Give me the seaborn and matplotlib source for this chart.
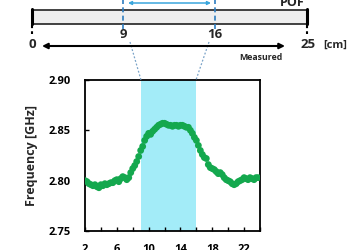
import numpy as np
import pandas as pd
import matplotlib
matplotlib.use("Agg")
import matplotlib.pyplot as plt
import seaborn as sns

# ---- data ----
position_cm = [2.0, 2.25, 2.5, 2.75, 3.0, 3.25, 3.5, 3.75, 4.0, 4.25, 4.5, 4.75,
               5.0, 5.25, 5.5, 5.75, 6.0, 6.25, 6.5, 6.75, 7.0, 7.25, 7.5, 7.75,
               8.0, 8.25, 8.5, 8.75, 9.0, 9.25, 9.5, 9.75, 10.0, 10.25, 10.5, 10.75,
               11.0, 11.25, 11.5, 11.75, 12.0, 12.25, 12.5, 12.75, 13.0, 13.25, 13.5, 13.75,
               14.0, 14.25, 14.5, 14.75, 15.0, 15.25, 15.5, 15.75, 16.0, 16.25, 16.5, 16.75,
               17.0, 17.25, 17.5, 17.75, 18.0, 18.25, 18.5, 18.75, 19.0, 19.25, 19.5, 19.75,
               20.0, 20.25, 20.5, 20.75, 21.0, 21.25, 21.5, 21.75, 22.0, 22.25, 22.5, 22.75,
               23.0, 23.25, 23.5, 23.75]
frequency_ghz = [2.800, 2.799, 2.797, 2.796, 2.795, 2.796, 2.794, 2.793, 2.796, 2.795, 2.797, 2.796,
                 2.797, 2.798, 2.798, 2.800, 2.801, 2.799, 2.802, 2.804, 2.803, 2.801, 2.803, 2.808,
                 2.812, 2.815, 2.819, 2.824, 2.830, 2.834, 2.840, 2.844, 2.847, 2.846, 2.849, 2.851,
                 2.853, 2.855, 2.856, 2.857, 2.857, 2.856, 2.855, 2.855, 2.854, 2.855, 2.855, 2.854,
                 2.855, 2.855, 2.854, 2.853, 2.853, 2.850, 2.847, 2.843, 2.840, 2.835, 2.830, 2.826,
                 2.823, 2.822, 2.816, 2.813, 2.812, 2.811, 2.809, 2.807, 2.808, 2.806, 2.803, 2.801,
                 2.800, 2.799, 2.797, 2.796, 2.797, 2.799, 2.800, 2.801, 2.803, 2.802, 2.801, 2.803,
                 2.802, 2.801, 2.803, 2.803]
highlight_range = [9, 16]
x_ticks = [2, 6, 10, 14, 18, 22]
y_ticks = [2.75, 2.80, 2.85, 2.90]
y_tick_labels = ["2.75", "2.80", "2.85", "2.90"]

df = pd.DataFrame({"pos": position_cm, "freq": frequency_ghz})

sns.set_theme(style="white")
plt.rcParams['font.family'] = ['Open Sans', 'DejaVu Sans']
plt.rcParams['font.weight'] = 'bold'

W, H = 350, 250
fig = plt.figure(figsize=(3.5, 2.5), dpi=100)

# main plot axes
ax = fig.add_axes([85 / W, 1 - 231 / H, 175 / W, 151 / H])
ax.axvspan(highlight_range[0], highlight_range[1], color="#a3ecf8", lw=0, zorder=0)
sns.scatterplot(data=df, x="pos", y="freq", ax=ax, color="#14a84e", s=24,
                edgecolor="none", zorder=3, legend=False)
ax.set_xlim(2, 24)
ax.set_ylim(2.75, 2.90)
ax.set_xticks(x_ticks)
ax.set_xticks(np.arange(2, 24.1, 2), minor=True)
ax.set_yticks(y_ticks)
ax.set_yticklabels(y_tick_labels)
ax.tick_params(axis="both", which="both", direction="in", length=3, width=1,
               colors="black", labelsize=8)
ax.tick_params(axis="x", which="both", bottom=True, pad=9)
ax.tick_params(axis="y", which="both", left=True, pad=10)
ax.set_xticklabels([str(t) for t in x_ticks], fontweight="bold")
for lbl in ax.get_yticklabels():
    lbl.set_fontweight("bold")
ax.set_xlabel("")
ax.set_ylabel("Frequency [GHz]", fontsize=9, fontweight="bold", labelpad=8)
for sp in ax.spines.values():
    sp.set_color("black")
    sp.set_linewidth(1.3)

# overlay diagram axes in pixel coords
ov = fig.add_axes([0, 0, 1, 1], zorder=5)
ov.set_xlim(0, W)
ov.set_ylim(H, 0)
ov.axis("off")
ov.patch.set_alpha(0)

# POF rod
ov.add_patch(plt.Rectangle((32, 10), 275, 14, facecolor="#efefef",
                           edgecolor="#222222", lw=1.2))
for xe in (32, 307):
    ov.plot([xe, xe], [9, 24], color="black", lw=2.2)
    ov.plot([xe, xe], [25, 34], color="black", lw=1.5, ls=(0, (1.5, 1.5)))
ov.text(292, 3, "POF", ha="center", va="center", fontsize=9, fontweight="bold")

# blue dashed section lines
for xe in (123, 215):
    ov.plot([xe, xe], [-2, 30], color="#2e7dc0", lw=1.2, ls=(0, (3, 2)))
ov.annotate("", xy=(128, 3), xytext=(211, 3),
            arrowprops=dict(arrowstyle="<|-|>", color="#3aa6dc", lw=1.1,
                            mutation_scale=5, shrinkA=0, shrinkB=0))
ov.text(123, 34, "9", ha="center", va="center", fontsize=9.5, fontweight="bold")
ov.text(215, 34, "16", ha="center", va="center", fontsize=9.5, fontweight="bold")

# measured arrow
ov.annotate("", xy=(42, 46), xytext=(285, 46),
            arrowprops=dict(arrowstyle="<|-|>", color="black", lw=1.5,
                            mutation_scale=8, shrinkA=0, shrinkB=0))
ov.text(32, 45, "0", ha="center", va="center", fontsize=9.5, fontweight="bold")
ov.text(308, 45, "25", ha="center", va="center", fontsize=9.5, fontweight="bold")
ov.text(335, 45, "[cm]", ha="center", va="center", fontsize=8, fontweight="bold")
ov.text(261, 57, "Measured", ha="center", va="center", fontsize=6.3, fontweight="bold")

# zoom connector lines
ov.plot([130, 141], [42, 80], color="#7aa3c8", lw=0.9, ls=(0, (1.5, 1.5)))
ov.plot([209, 196], [42, 80], color="#7aa3c8", lw=0.9, ls=(0, (1.5, 1.5)))

fig.savefig("out.png", dpi=100)
